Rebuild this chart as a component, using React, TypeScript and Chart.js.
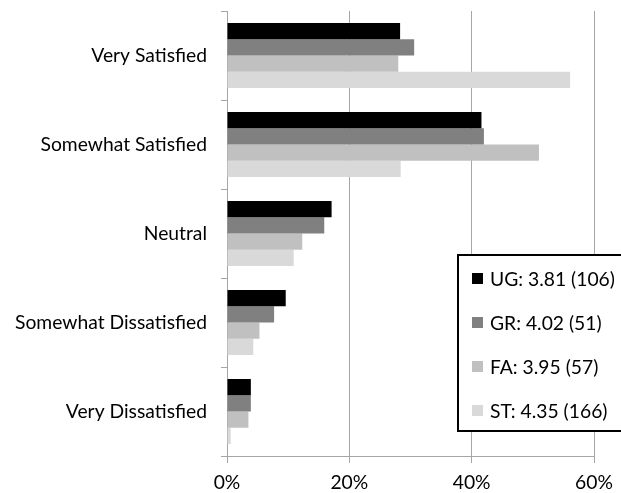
import React, { useEffect, useRef } from "react";
import { Chart, registerables } from "chart.js";

Chart.register(...registerables);

const categories = [
  "Very Satisfied",
  "Somewhat Satisfied",
  "Neutral",
  "Somewhat Dissatisfied",
  "Very Dissatisfied",
];
const seriesLabels = ["UG: 3.81 (106)", "GR: 4.02 (51)", "FA: 3.95 (57)", "ST: 4.35 (166)"];
const ugValues = [28.3, 41.6, 17.1, 9.6, 3.9];
const grValues = [30.6, 42.0, 15.9, 7.7, 3.9];
const faValues = [28.0, 51.0, 12.3, 5.3, 3.5];
const stValues = [56.1, 28.4, 10.9, 4.3, 0.6];
const xTicks = [0, 20, 40, 60];
const seriesColors = ["#000000", "#808080", "#c0c0c0", "#d9d9d9"];

const FONT = "Lato, 'Liberation Sans', sans-serif";
const FONT_SIZE = 19.3;
const AXIS = "#a6a6a6";

const legendPlugin = {
  id: "boxLegend",
  afterDraw(chart: any) {
    const ctx = chart.ctx as CanvasRenderingContext2D;
    ctx.save();
    const left = 458;
    const top = 255;
    const bottom = 431;
    const right = 630;
    ctx.fillStyle = "#ffffff";
    ctx.fillRect(left, top, right - left, bottom - top);
    ctx.strokeStyle = "#000000";
    ctx.lineWidth = 2;
    ctx.strokeRect(left, top, right - left, bottom - top);
    ctx.font = `${FONT_SIZE}px ${FONT}`;
    ctx.textBaseline = "middle";
    ctx.textAlign = "left";
    chart.data.datasets.forEach((ds: any, i: number) => {
      const cy = 278.5 + 44 * i;
      ctx.fillStyle = ds.backgroundColor;
      ctx.fillRect(472, cy - 5.5, 11, 11);
      ctx.fillStyle = "#000000";
      ctx.fillText(ds.label, 490, cy + 1);
    });
    ctx.restore();
  },
};

export default function App() {
  const ref = useRef<HTMLCanvasElement>(null);
  useEffect(() => {
    if (!ref.current) return;
    const values = [ugValues, grValues, faValues, stValues];
    const chart = new Chart(ref.current, {
      type: "bar",
      data: {
        labels: categories,
        datasets: values.map((v, i) => ({
          label: seriesLabels[i],
          data: v,
          backgroundColor: seriesColors[i],
          borderWidth: 0,
          categoryPercentage: 0.73,
          barPercentage: 1.0,
        })),
      },
      options: {
        indexAxis: "y",
        responsive: false,
        animation: false,
        devicePixelRatio: 1,
        layout: { padding: { top: 11, right: 27, bottom: 0, left: 0 } },
        plugins: {
          legend: { display: false },
          tooltip: { enabled: false },
        },
        scales: {
          x: {
            type: "linear",
            min: 0,
            max: 60,
            afterBuildTicks: (s: any) => {
              s.ticks = xTicks.map((v) => ({ value: v }));
            },
            afterFit: (s: any) => {
              s.height = 37;
              s.paddingLeft = 0;
              s.paddingRight = 0;
            },
            ticks: {
              callback: (v: any) => `${v}%`,
              font: { family: FONT, size: FONT_SIZE },
              color: "#000000",
              padding: 8,
              maxRotation: 0,
            },
            grid: { color: AXIS, tickLength: 7, lineWidth: 1 },
            border: { display: true, color: AXIS },
          },
          y: {
            type: "category",
            offset: true,
            afterFit: (s: any) => {
              s.width = 227;
              s.paddingTop = 0;
              s.paddingBottom = 0;
            },
            ticks: {
              font: { family: FONT, size: FONT_SIZE },
              color: "#000000",
              padding: 14,
            },
            grid: { offset: true, drawOnChartArea: false, tickLength: 6, color: AXIS },
            border: { display: true, color: AXIS },
          },
        },
      },
      plugins: [legendPlugin],
    } as any);
    return () => chart.destroy();
  }, []);
  return (
    <div style={{ position: "absolute", left: 0, top: 0, width: 621, height: 493 }}>
      <canvas ref={ref} width={621} height={493} style={{ width: 621, height: 493 }} />
    </div>
  );
}
